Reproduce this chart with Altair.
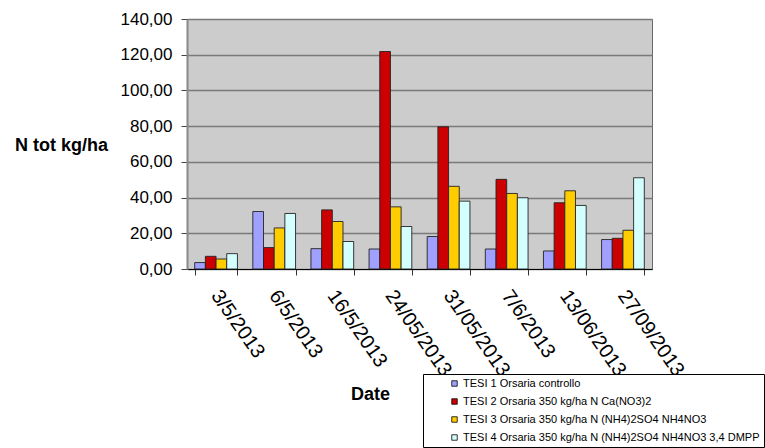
import altair as alt
import pandas as pd

# Sampling dates (x-axis categories)
dates = ["3/5/2013", "6/5/2013", "16/5/2013", "24/05/2013",
         "31/05/2013", "7/6/2013", "13/06/2013", "27/09/2013"]

# Treatment names (legend entries)
series = [
    "TESI 1 Orsaria controllo",
    "TESI 2 Orsaria 350 kg/ha N Ca(NO3)2",
    "TESI 3 Orsaria 350 kg/ha N (NH4)2SO4 NH4NO3",
    "TESI 4 Orsaria 350 kg/ha N (NH4)2SO4 NH4NO3 3,4 DMPP",
]

# Total N (kg/ha) per treatment and date
tesi1 = [3.6, 32.2, 11.4, 11.2, 18.2, 11.2, 10.1, 16.5]
tesi2 = [7.1, 12.0, 33.1, 121.8, 79.6, 50.2, 37.1, 17.2]
tesi3 = [5.6, 23.0, 26.6, 34.8, 46.3, 42.3, 43.8, 21.7]
tesi4 = [8.6, 31.1, 15.4, 23.8, 38.0, 39.9, 35.6, 51.1]

colors = ["#A0A0FF", "#CC0000", "#FFCC00", "#D4FFFF"]

rows = []
for name, vals in zip(series, [tesi1, tesi2, tesi3, tesi4]):
    for d, v in zip(dates, vals):
        rows.append({"date": d, "series": name, "value": v})
df = pd.DataFrame(rows)

y_ticks = [0, 20, 40, 60, 80, 100, 120, 140]

FONT = "Liberation Sans"

bars = alt.Chart(df).mark_bar(stroke="#222222", strokeWidth=0.9).encode(
    x=alt.X(
        "date:N",
        sort=dates,
        scale=alt.Scale(paddingInner=0.265, paddingOuter=0.1325),
        axis=alt.Axis(
            title="Date",
            titleFont=FONT,
            titleFontSize=18,
            titleFontWeight="bold",
            titleColor="black",
            titleX=183,
            titleY=125,
            titleAlign="center",
            titleBaseline="middle",
            labelAngle=55,
            labelAlign="left",
            labelBaseline="top",
            labelPadding=11,
            labelOffset=7,
            labelFont=FONT,
            labelFontSize=20,
            labelColor="black",
            labelOverlap=False,
            tickBand="extent",
            tickSize=6,
            tickColor="#333333",
            domainColor="black",
            domainWidth=1.2,
            grid=False,
        ),
    ),
    xOffset=alt.XOffset("series:N", sort=series,
                        scale=alt.Scale(paddingInner=0, paddingOuter=0)),
    y=alt.Y(
        "value:Q",
        scale=alt.Scale(domain=[0, 140], nice=False),
        axis=alt.Axis(
            values=y_ticks,
            labelExpr="replace(format(datum.value, '.2f'), '.', ',')",
            title="N tot kg/ha",
            titleFont=FONT,
            titleFontSize=18,
            titleFontWeight="bold",
            titleColor="black",
            titleAngle=0,
            titleX=-126,
            titleY=126,
            titleAlign="center",
            titleBaseline="middle",
            labelFont=FONT,
            labelFontSize=17,
            labelColor="black",
            labelPadding=9,
            tickSize=6,
            tickColor="#444444",
            domainColor="#888888",
            domainWidth=2,
            grid=True,
            gridColor="#7A7A7A",
            gridWidth=1.6,
        ),
    ),
    color=alt.Color(
        "series:N",
        sort=series,
        scale=alt.Scale(domain=series, range=colors),
        legend=alt.Legend(
            title=None,
            orient="none",
            legendX=236,
            legendY=355,
            direction="vertical",
            strokeColor="black",
            fillColor="white",
            padding=4,
            symbolType="square",
            symbolSize=30,
            symbolStrokeColor="black",
            symbolStrokeWidth=0.8,
            symbolOpacity=1,
            symbolOffset=22,
            labelFont=FONT,
            labelFontSize=11,
            labelColor="black",
            labelLimit=500,
            labelOffset=3,
            rowPadding=6,
        ),
    ),
)

chart = bars.properties(
    width=465,
    height=250,
    autosize="none",
    padding={"left": 187, "top": 19, "right": 113, "bottom": 179},
    background="white",
).configure_view(fill="#CCCCCC", stroke="#6A6A6A", strokeWidth=1)

chart.save("out.html", embed_options={"renderer": "svg", "actions": False})
